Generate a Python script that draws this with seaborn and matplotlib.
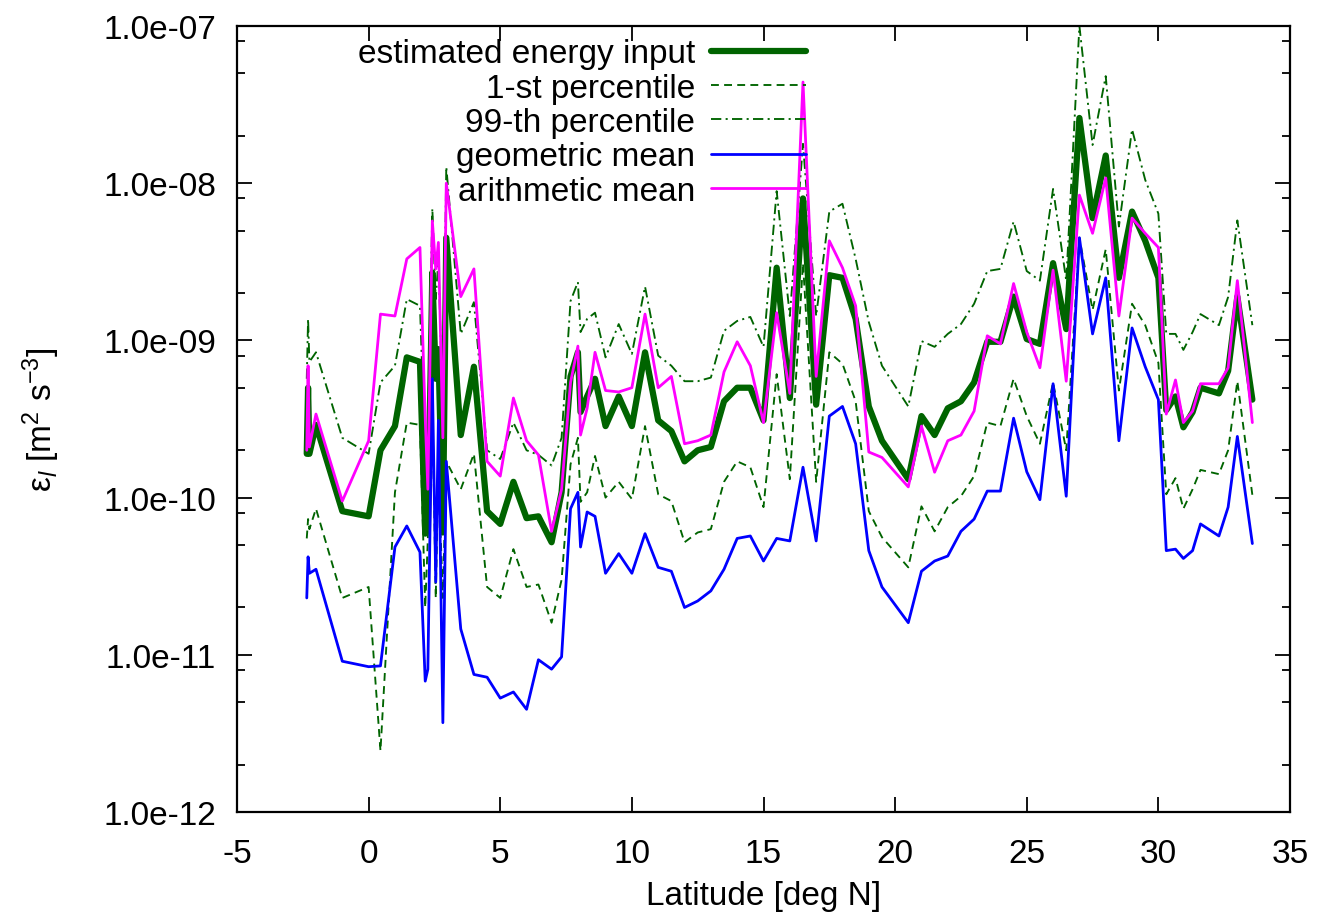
import matplotlib
matplotlib.use('Agg')
import pandas as pd
import matplotlib.pyplot as plt
import seaborn as sns
from matplotlib.ticker import LogLocator, FuncFormatter, MultipleLocator, NullFormatter

# latitude of each profile [deg N]
lat = [-2.35, -2.3, -2.25, -2.0, -1.0, 0.0, 0.45, 1.0, 1.45, 1.95,
       2.15, 2.25, 2.42, 2.55, 2.65, 2.82, 2.95, 3.5, 4.0, 4.5,
       5.0, 5.5, 6.0, 6.45, 6.95, 7.33, 7.67, 7.95, 8.05, 8.3,
       8.6, 9.0, 9.5, 10.0, 10.5, 11.0, 11.5, 12.0, 12.5, 13.0,
       13.5, 14.0, 14.5, 15.0, 15.5, 16.0, 16.5, 17.0, 17.5, 18.0,
       18.5, 19.0, 19.5, 20.5, 21.0, 21.5, 22.0, 22.5, 23.0, 23.5,
       24.0, 24.5, 25.0, 25.5, 26.0, 26.5, 27.0, 27.5, 28.0, 28.5,
       29.0, 29.5, 30.0, 30.3, 30.65, 30.95, 31.3, 31.6, 32.3, 32.65,
       33.0, 33.57]

energy = [1.9e-10, 5.0e-10, 1.9e-10, 2.9e-10, 8.2e-11, 7.6e-11, 2.0e-10, 2.85e-10, 7.8e-10, 7.3e-10,
          5.9e-11, 6.3e-11, 2.7e-9, 5.7e-10, 8.8e-10, 6.0e-11, 4.5e-9, 2.5e-10, 6.8e-10, 8.2e-11,
          6.8e-11, 1.26e-10, 7.4e-11, 7.6e-11, 5.2e-11, 1.08e-10, 5.9e-10, 8.4e-10, 3.5e-10, 4.4e-10,
          5.7e-10, 2.85e-10, 4.4e-10, 2.85e-10, 8.4e-10, 3.1e-10, 2.65e-10, 1.7e-10, 2.0e-10, 2.1e-10,
          4.1e-10, 5.0e-10, 5.0e-10, 3.1e-10, 2.9e-9, 4.3e-10, 8.0e-9, 3.9e-10, 2.6e-9, 2.5e-9,
          1.37e-9, 3.8e-10, 2.3e-10, 1.31e-10, 3.3e-10, 2.5e-10, 3.7e-10, 4.1e-10, 5.4e-10, 9.8e-10,
          9.8e-10, 1.9e-9, 1.02e-9, 9.5e-10, 3.1e-9, 1.18e-9, 2.6e-8, 6.0e-9, 1.5e-8, 2.5e-9,
          6.6e-9, 4.3e-9, 2.5e-9, 3.6e-10, 4.4e-10, 2.8e-10, 3.5e-10, 5.0e-10, 4.6e-10, 6.4e-10,
          1.9e-9, 4.2e-10]

p01 = [5.5e-11, 7.3e-11, 6.3e-11, 8.5e-11, 2.3e-11, 2.7e-11, 2.45e-12, 1.08e-10, 3.0e-10, 2.9e-10,
       2.0e-11, 5.5e-11, 4.2e-10, 2.3e-11, 1.5e-10, 2.3e-11, 1.7e-10, 1.13e-10, 1.9e-10, 2.7e-11,
       2.3e-11, 4.7e-11, 2.7e-11, 2.8e-11, 1.6e-11, 3.0e-11, 1.63e-10, 2.4e-10, 9.4e-11, 1.08e-10,
       1.84e-10, 1.0e-10, 1.26e-10, 9.8e-11, 2.85e-10, 1.05e-10, 9.5e-11, 5.2e-11, 6.0e-11, 6.3e-11,
       1.26e-10, 1.7e-10, 1.56e-10, 8.7e-11, 6.1e-10, 1.31e-10, 3.1e-9, 1.26e-10, 8.4e-10, 7.1e-10,
       4.1e-10, 8.2e-11, 5.6e-11, 3.6e-11, 8.8e-11, 6.1e-11, 8.7e-11, 1.02e-10, 1.37e-10, 3.0e-10,
       2.85e-10, 5.7e-10, 3.3e-10, 2.2e-10, 5.4e-10, 2.0e-10, 4.5e-9, 1.56e-9, 3.8e-9, 4.8e-10,
       1.71e-9, 1.25e-9, 7.2e-10, 1.05e-10, 1.33e-10, 8.5e-11, 1.13e-10, 1.5e-10, 1.41e-10, 2.0e-10,
       5.5e-10, 1.04e-10]

p99 = [5.7e-10, 1.37e-9, 7.3e-10, 8.4e-10, 2.4e-10, 1.9e-10, 5.4e-10, 6.9e-10, 1.83e-9, 1.66e-9,
       1.76e-10, 2.4e-10, 6.9e-9, 1.83e-9, 3.3e-9, 3.2e-10, 1.27e-8, 1.1e-9, 1.75e-9, 2.0e-10,
       1.76e-10, 3.0e-10, 2.0e-10, 1.87e-10, 1.6e-10, 2.4e-10, 1.78e-9, 2.35e-9, 1.13e-9, 1.37e-9,
       1.5e-9, 7.8e-10, 1.27e-9, 8.2e-10, 2.2e-9, 8.0e-10, 6.9e-10, 5.5e-10, 5.5e-10, 5.8e-10,
       1.15e-9, 1.33e-9, 1.41e-9, 9.1e-10, 8.9e-9, 1.43e-9, 1.78e-8, 1.43e-9, 6.6e-9, 7.4e-9,
       3.3e-9, 1.31e-9, 6.9e-10, 3.8e-10, 9.9e-10, 9.1e-10, 1.1e-9, 1.27e-9, 1.71e-9, 2.76e-9,
       2.85e-9, 5.7e-9, 2.76e-9, 2.4e-9, 9.2e-9, 2.4e-9, 1.0e-7, 1.75e-8, 4.8e-8, 5.3e-9,
       2.2e-8, 1.05e-8, 6.4e-9, 1.1e-9, 1.1e-9, 8.7e-10, 1.13e-9, 1.47e-9, 1.25e-9, 1.89e-9,
       5.8e-9, 1.25e-9]

geo_mean = [2.3e-11, 4.2e-11, 3.3e-11, 3.5e-11, 9.1e-12, 8.4e-12, 8.5e-12, 4.85e-11, 6.6e-11, 4.5e-11,
            6.8e-12, 8.1e-12, 5.7e-10, 2.9e-11, 3.1e-10, 3.7e-12, 1.7e-10, 1.46e-11, 7.5e-12, 7.2e-12,
            5.3e-12, 5.8e-12, 4.5e-12, 9.3e-12, 8.1e-12, 9.7e-12, 8.5e-11, 1.08e-10, 4.85e-11, 8.1e-11,
            7.6e-11, 3.3e-11, 4.4e-11, 3.3e-11, 5.9e-11, 3.6e-11, 3.4e-11, 2.0e-11, 2.2e-11, 2.55e-11,
            3.5e-11, 5.5e-11, 5.7e-11, 3.95e-11, 5.5e-11, 5.3e-11, 1.56e-10, 5.3e-11, 3.3e-10, 3.8e-10,
            2.2e-10, 4.6e-11, 2.7e-11, 1.6e-11, 3.4e-11, 3.95e-11, 4.25e-11, 6.1e-11, 7.3e-11, 1.1e-10,
            1.1e-10, 3.2e-10, 1.46e-10, 9.7e-11, 5.3e-10, 1.02e-10, 4.5e-9, 1.1e-9, 2.5e-9, 2.3e-10,
            1.2e-9, 6.8e-10, 4.2e-10, 4.6e-11, 4.7e-11, 4.1e-11, 4.6e-11, 6.8e-11, 5.7e-11, 8.7e-11,
            2.45e-10, 5.1e-11]

ari_mean = [2.0e-10, 6.9e-10, 2.1e-10, 3.4e-10, 9.5e-11, 2.3e-10, 1.47e-9, 1.43e-9, 3.3e-9, 3.9e-9,
            3.2e-10, 1.13e-10, 5.75e-9, 2.85e-9, 4.2e-9, 2.4e-10, 1.0e-8, 1.9e-9, 2.85e-9, 1.7e-10,
            1.37e-10, 4.3e-10, 2.3e-10, 1.87e-10, 6.1e-11, 1.13e-10, 5.4e-10, 9.2e-10, 2.5e-10, 3.7e-10,
            8.4e-10, 4.8e-10, 4.7e-10, 5.0e-10, 1.47e-9, 5.0e-10, 5.9e-10, 2.2e-10, 2.3e-10, 2.5e-10,
            6.3e-10, 9.8e-10, 6.9e-10, 3.0e-10, 1.5e-9, 4.6e-10, 4.4e-8, 5.9e-10, 4.3e-9, 2.9e-9,
            1.66e-9, 1.95e-10, 1.8e-10, 1.17e-10, 2.85e-10, 1.45e-10, 2.3e-10, 2.5e-10, 3.55e-10, 1.07e-9,
            9.5e-10, 2.3e-9, 1.13e-9, 6.7e-10, 2.8e-9, 5.5e-10, 8.4e-9, 4.8e-9, 1.08e-8, 1.43e-9,
            6.0e-9, 4.8e-9, 3.9e-9, 3.4e-10, 5.6e-10, 3.0e-10, 3.55e-10, 5.3e-10, 5.3e-10, 6.7e-10,
            2.4e-9, 3.0e-10]

df = pd.DataFrame({'lat': lat, 'energy': energy, 'p01': p01, 'p99': p99,
                   'geo': geo_mean, 'ari': ari_mean})

sns.set_theme(style='ticks')
plt.rcParams['font.family'] = ['Liberation Sans', 'DejaVu Sans']
plt.rcParams['mathtext.fontset'] = 'custom'
plt.rcParams['mathtext.rm'] = 'Liberation Sans'
plt.rcParams['mathtext.it'] = 'Liberation Sans:italic'
plt.rcParams['axes.unicode_minus'] = False
plt.rcParams['text.color'] = 'black'
plt.rcParams['axes.labelcolor'] = 'black'

fs = 24
green = '#006400'

fig = plt.figure(figsize=(13.28, 9.2), dpi=100)
ax = fig.add_axes([237 / 1328, 1 - 813 / 920, (1290 - 237) / 1328, (813 - 27) / 920])

sns.lineplot(data=df, x='lat', y='energy', ax=ax, color=green, linewidth=4.5,
             label='estimated energy input', errorbar=None)
sns.lineplot(data=df, x='lat', y='p01', ax=ax, color=green, linewidth=1.35,
             linestyle=(0, (4.2, 2.8)), label='1-st percentile', errorbar=None)
sns.lineplot(data=df, x='lat', y='p99', ax=ax, color=green, linewidth=1.35,
             linestyle=(0, (5.5, 2.3, 1.1, 2.3)), label='99-th percentile', errorbar=None)
sns.lineplot(data=df, x='lat', y='geo', ax=ax, color='#0000ff', linewidth=2.0,
             label='geometric mean', errorbar=None)
sns.lineplot(data=df, x='lat', y='ari', ax=ax, color='#ff00ff', linewidth=2.0,
             label='arithmetic mean', errorbar=None)

ax.set_yscale('log')
ax.set_xlim(-5, 35)
ax.set_ylim(1e-12, 1e-7)
ax.xaxis.set_major_locator(MultipleLocator(5))
ax.yaxis.set_major_locator(LogLocator(base=10, numticks=10))
ax.yaxis.set_minor_locator(LogLocator(base=10, subs=[2, 5, 8], numticks=10))
ax.yaxis.set_minor_formatter(NullFormatter())
ax.yaxis.set_major_formatter(FuncFormatter(lambda v, p: f'{v:.1e}'))

ax.tick_params(which='both', direction='in', top=True, right=True, colors='black',
               labelcolor='black', labelsize=fs, width=1.3)
ax.tick_params(which='major', length=11)
ax.tick_params(which='minor', length=6)
ax.tick_params(axis='x', which='major', pad=19)
ax.tick_params(axis='y', which='major', pad=15)
for s in ax.spines.values():
    s.set_linewidth(1.6)
    s.set_color('black')

ax.set_xlabel('Latitude [deg N]', fontsize=fs, labelpad=8)
ax.set_ylabel('ε$_l$ [m$^2$ s$^{-3}$]', fontsize=fs, labelpad=30)

ax.legend(loc='upper right', bbox_to_anchor=(0.55, 0.997), frameon=False,
          markerfirst=False, handlelength=2.85, handletextpad=0.48,
          labelspacing=0.1, borderpad=0.3, borderaxespad=0, fontsize=fs)

fig.savefig('out.png', dpi=100, facecolor='white')
